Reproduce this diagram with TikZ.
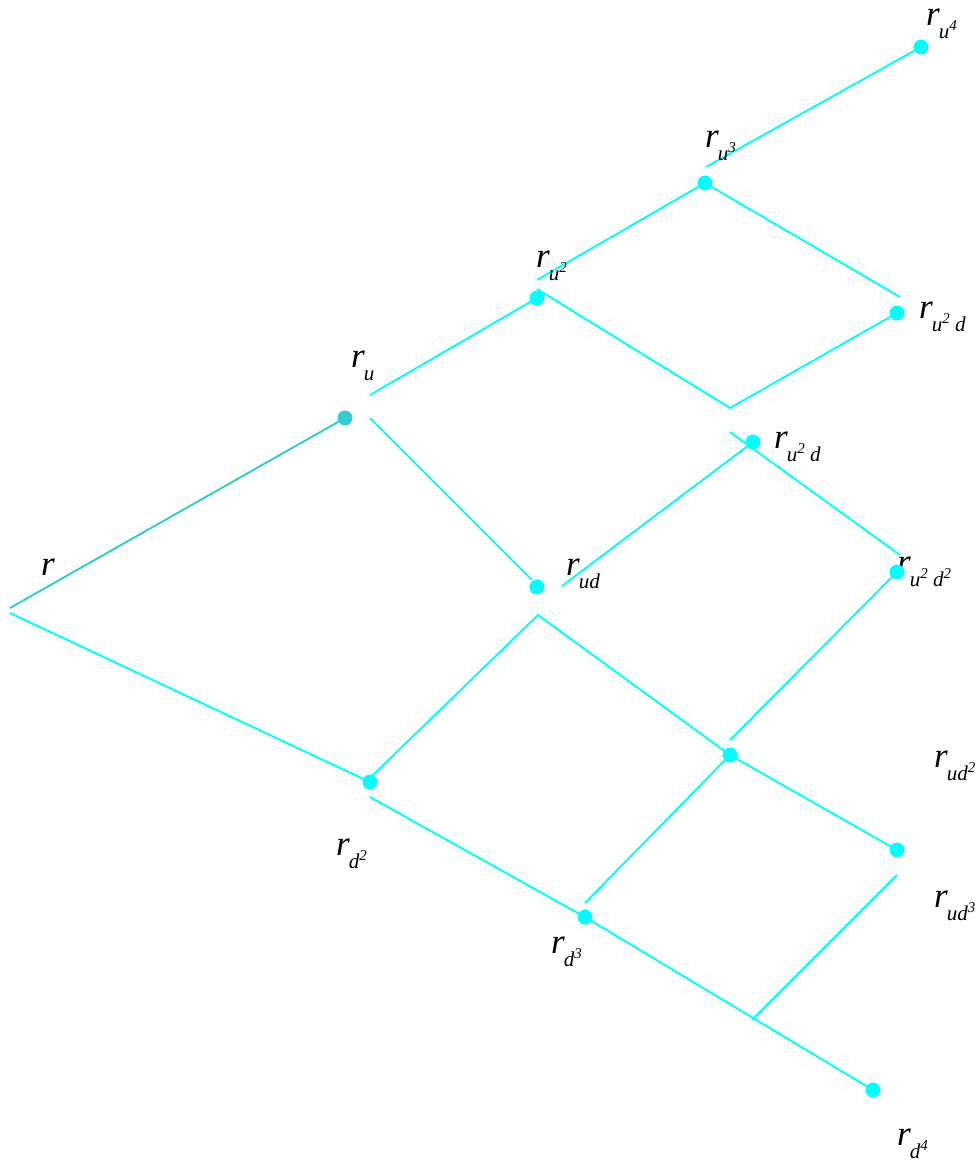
\documentclass[tikz,border=0pt]{standalone}
\usepackage{fontspec}
\setmainfont{Liberation Serif}
\definecolor{cy}{RGB}{0,255,255}
\definecolor{tl}{RGB}{51,204,204}
\newcommand{\rl}[1]{\fontsize{20}{22}\selectfont\textit{r}\kern-0.5pt\raisebox{-7.5pt}{\fontsize{12}{12}\selectfont\textit{#1}}}
\newcommand{\supx}[1]{\raisebox{4.5pt}{\fontsize{8.5}{9}\selectfont #1}}
\begin{document}
\begin{tikzpicture}[x=0.02cm,y=-0.02cm,
  ln/.style={cy,line width=1.1pt},
  dot/.style={circle,fill=cy,inner sep=0pt,minimum size=0.3cm},
  lab/.style={anchor=base west,inner sep=0pt,outer sep=0pt}]
\useasboundingbox (0,0) rectangle (978,1163);
% label partly hidden behind a dot
\node[lab] (L8) at (897,573) {\rl{u\supx{2} d\supx{2}}};
% dots
\node[dot,fill=tl] (D1) at (345,418) {};
\node[dot] (D2) at (537,298) {};
\node[dot] (D3) at (705,183) {};
\node[dot] (D4) at (921,47) {};
\node[dot] (D5) at (897,313) {};
\node[dot] (D6) at (753,442) {};
\node[dot] (D7) at (537,587) {};
\node[dot] (D8) at (897,572) {};
\node[dot] (D9) at (370,782) {};
\node[dot] (D10) at (730,755) {};
\node[dot] (D11) at (897,850) {};
\node[dot] (D12) at (585,917) {};
\node[dot] (D13) at (873,1090) {};
% free-end coordinates
\coordinate (a1) at (10,608);
\coordinate (a2) at (10,613);
\coordinate (b1) at (370,395);
\coordinate (b2) at (370,418);
\coordinate (b3) at (532,580);
\coordinate (c1) at (537,280);
\coordinate (c2) at (537,289);
\coordinate (c3) at (730,408);
\coordinate (e1) at (900,297);
\coordinate (e2) at (706,167);
\coordinate (f1) at (730,432);
\coordinate (f2) at (900,555);
\coordinate (g1) at (562,586);
\coordinate (h1) at (538,615);
\coordinate (h2) at (372,776);
\coordinate (i1) at (730,740);
\coordinate (j1) at (370,797);
\coordinate (k1) at (585,903);
\coordinate (m1) at (752,1020);
\coordinate (m2) at (897,875);
% connectors
\draw[tl,line width=1.1pt] (a1) -- (D1.center);
\draw[ln] (a2) -- (D9.center);
\draw[ln] (b1) -- (D2.center);
\draw[ln] (b2) -- (b3);
\draw[ln] (c1) -- (D3.center);
\draw[ln] (c2) -- (c3) -- (D5.center);
\draw[ln] (D3.center) -- (e1);
\draw[ln] (e2) -- (D4.center);
\draw[ln] (f1) -- (f2);
\draw[ln] (g1) -- (D6.center);
\draw[ln] (h2) -- (h1) -- (D10.center);
\draw[ln] (i1) -- (D8.center);
\draw[ln] (D10.center) -- (D11.center);
\draw[ln] (j1) -- (D12.center);
\draw[ln] (D12.center) -- (D13.center);
\draw[ln] (k1) -- (D10.center);
\draw[ln] (m1) -- (m2);
% labels
\node[lab] (L0) at (41,575) {\fontsize{20}{22}\selectfont\textit{r}};
\node[lab] (L1) at (351,367) {\rl{u}};
\node[lab] (L2) at (536,267) {\rl{u\supx{2}}};
\node[lab] (L3) at (705,147) {\rl{u\supx{3}}};
\node[lab] (L4) at (926,25) {\rl{u\supx{4}}};
\node[lab] (L5) at (919,318) {\rl{u\supx{2} d}};
\node[lab] (L6) at (774,448) {\rl{u\supx{2} d}};
\node[lab] (L7) at (566,575) {\rl{ud}};
\node[lab] (L9) at (934,767) {\rl{ud\supx{2}}};
\node[lab] (L10) at (934,907) {\rl{ud\supx{3}}};
\node[lab] (L11) at (336,855) {\rl{d\supx{2}}};
\node[lab] (L12) at (551,953) {\rl{d\supx{3}}};
\node[lab] (L13) at (897,1145) {\rl{d\supx{4}}};
\end{tikzpicture}
\end{document}
